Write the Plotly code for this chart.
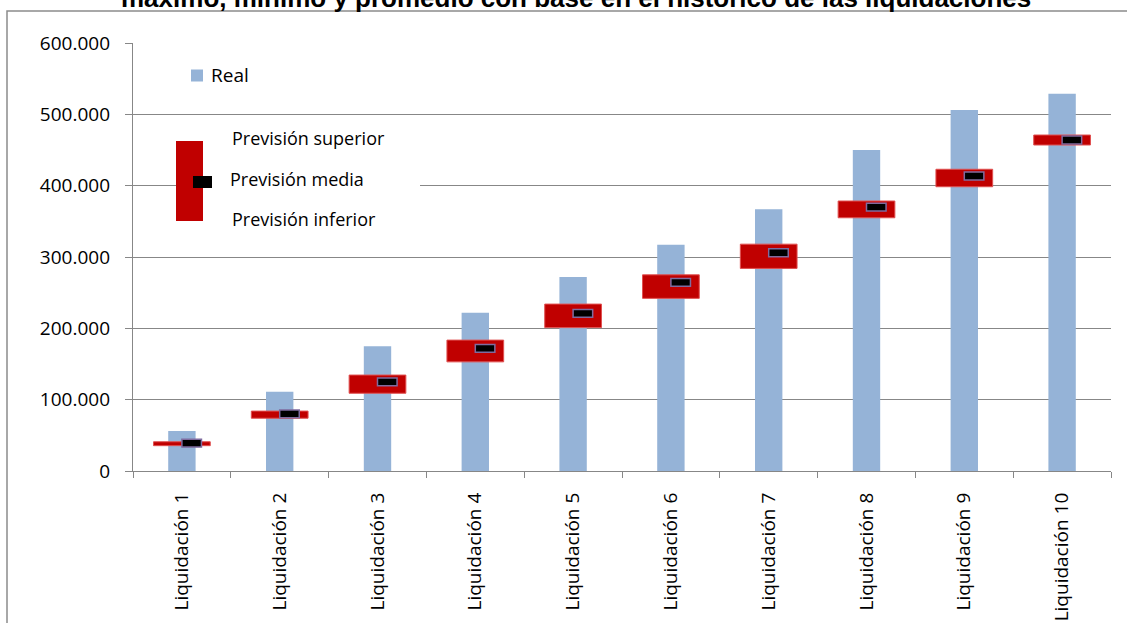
import plotly.graph_objects as go

categories = [f"Liquidación {i}" for i in range(1, 11)]
real = [56000, 111000, 175000, 222000, 272000, 317000, 367000, 450000, 506000, 529000]
prev_sup = [41000, 84000, 134500, 183500, 234000, 275000, 318000, 378500, 423000, 471000]
prev_inf = [35500, 74000, 109000, 153000, 201000, 242000, 284000, 355000, 398500, 457000]
prev_med = [39000, 80000, 125000, 172000, 221000, 264500, 306000, 370000, 413500, 464000]
y_ticks = [0, 100000, 200000, 300000, 400000, 500000, 600000]

W, H = 1127, 623
ML, MR, MT, MB = 133, 16, 43, 152
PW = W - ML - MR
PH = H - MT - MB


def px(x):
    return (x - ML) / PW


def py(y):
    return (H - MB - y) / PH


xs = list(range(len(categories)))
GRAY = "#878787"
FONT = "Open Sans"

fig = go.Figure()
fig.add_trace(go.Bar(x=xs, y=real, width=0.28, marker=dict(color="#95B3D7", line=dict(width=0)),
                     name="Real"))
fig.add_trace(go.Bar(x=xs, y=[s - i for s, i in zip(prev_sup, prev_inf)], base=prev_inf, width=0.58,
                     marker=dict(color="#C00000", line=dict(color="#E05050", width=1)),
                     name="Previsión"))
mh = 11000
fig.add_trace(go.Bar(x=[i + 0.1 for i in xs], y=[mh] * len(xs), base=[m - mh / 2 for m in prev_med],
                     width=0.2, marker=dict(color="#000000", line=dict(color="#7F6B9F", width=1.5)),
                     name="Previsión media"))

shapes = []
# outer frame
shapes.append(dict(type="rect", xref="paper", yref="paper", x0=px(7), x1=px(1150), y0=py(11), y1=py(650),
                   line=dict(color="#8C8C8C", width=1.5), fillcolor="rgba(0,0,0,0)", layer="above"))
# legend: Real
shapes.append(dict(type="rect", xref="paper", yref="paper", x0=px(191), x1=px(203), y0=py(81.5), y1=py(69.5),
                   line=dict(width=0), fillcolor="#95B3D7", layer="above"))
# legend: previsión image
shapes.append(dict(type="rect", xref="paper", yref="paper", x0=px(176), x1=px(420), y0=py(232), y1=py(128),
                   line=dict(width=0), fillcolor="white", layer="above"))
shapes.append(dict(type="rect", xref="paper", yref="paper", x0=px(176), x1=px(203), y0=py(221), y1=py(141),
                   line=dict(width=0), fillcolor="#C00000", layer="above"))
shapes.append(dict(type="rect", xref="paper", yref="paper", x0=px(193), x1=px(212), y0=py(188), y1=py(176),
                   line=dict(width=0), fillcolor="#000000", layer="above"))

annotations = [
    dict(text="<b>máximo, mínimo y promedio con base en el histórico de las liquidaciones</b>",
         xref="paper", yref="paper", x=px(576), y=py(-2.5), xanchor="center", yanchor="middle",
         showarrow=False, font=dict(family="Liberation Sans", size=26, color="#000000")),
    dict(text="Real", xref="paper", yref="paper", x=px(209), y=py(75.5), xanchor="left", yanchor="middle",
         showarrow=False, font=dict(family=FONT, size=19, color="#000000")),
    dict(text="Previsión superior", xref="paper", yref="paper", x=px(230), y=py(138), xanchor="left",
         yanchor="middle", showarrow=False, font=dict(family=FONT, size=18, color="#000000")),
    dict(text="Previsión media", xref="paper", yref="paper", x=px(228), y=py(179), xanchor="left",
         yanchor="middle", showarrow=False, font=dict(family=FONT, size=18, color="#000000")),
    dict(text="Previsión inferior", xref="paper", yref="paper", x=px(230), y=py(219), xanchor="left",
         yanchor="middle", showarrow=False, font=dict(family=FONT, size=18, color="#000000")),
]

fig.update_layout(
    width=W, height=H,
    margin=dict(l=ML, r=MR, t=MT, b=MB, pad=0, autoexpand=False),
    barmode="overlay",
    showlegend=False,
    separators=",.",
    plot_bgcolor="white", paper_bgcolor="white",
    font=dict(family=FONT, size=19, color="#000000"),
    shapes=shapes,
    annotations=annotations,
    xaxis=dict(range=[-0.5, 9.5], tickmode="array", tickvals=xs, ticktext=categories, tickangle=-90,
               ticks="", showline=True, linecolor=GRAY, linewidth=1.3, showgrid=False, zeroline=False,
               ticklabelstandoff=13, automargin=False,
               minor=dict(tickmode="array", tickvals=[i - 0.5 for i in range(len(categories) + 1)],
                          ticks="outside", ticklen=6, tickcolor=GRAY, tickwidth=1.3, showgrid=False),
               tickfont=dict(family=FONT, size=19, color="#000000")),
    yaxis=dict(range=[0, 600000], tickmode="array", tickvals=y_ticks, tickformat=",.0f",
               ticks="outside", ticklen=7, tickcolor=GRAY, tickwidth=1.3, showline=True, linecolor=GRAY,
               linewidth=1.3, showgrid=True, gridcolor=GRAY, gridwidth=1.3, zeroline=False,
               ticklabelstandoff=11, automargin=False,
               tickfont=dict(family=FONT, size=19, color="#000000")),
)

fig.write_html("out.html")
